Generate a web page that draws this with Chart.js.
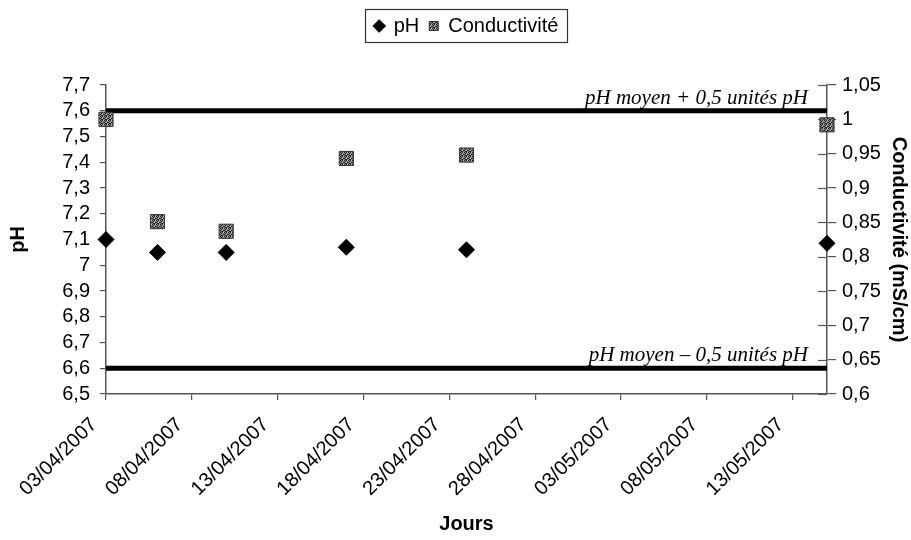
<!DOCTYPE html>
<html>
<head>
<meta charset="utf-8">
<script src="https://cdn.jsdelivr.net/npm/chart.js@4/dist/chart.umd.min.js"></script>
<style>
  html, body { margin: 0; padding: 0; background: #fff; }
  #wrap { width: 911px; height: 540px; }
</style>
</head>
<body>
<div id="wrap"><canvas id="c" width="911" height="540"></canvas></div>
<script>
// ---- data ----
const axisStart = '03/04/2007';
const axisEnd = '15/05/2007';
const dates = ['03/04/2007', '06/04/2007', '10/04/2007', '17/04/2007', '24/04/2007', '15/05/2007'];
const phValues = [7.10, 7.05, 7.05, 7.07, 7.06, 7.085];
const conductivity = [1.000, 0.851, 0.837, 0.943, 0.948, 0.992];
const xTickDates = ['03/04/2007', '08/04/2007', '13/04/2007', '18/04/2007', '23/04/2007',
                    '28/04/2007', '03/05/2007', '08/05/2007', '13/05/2007'];
const phLimits = [7.6, 6.6];
const limitLabels = ['pH moyen + 0,5 unités pH', 'pH moyen \u2013 0,5 unités pH'];
const seriesNames = ['pH', 'Conductivité'];
const axisTitles = { x: 'Jours', y: 'pH', y1: 'Conductivité (mS/cm)' };

// ---- helpers ----
const DAY = 86400000;
function toUTC(s) { const [d, m, y] = s.split('/').map(Number); return Date.UTC(y, m - 1, d); }
const t0 = toUTC(axisStart);
function dayIndex(s) { return Math.round((toUTC(s) - t0) / DAY); }
function labelFor(i) {
  const dt = new Date(t0 + i * DAY);
  const dd = String(dt.getUTCDate()).padStart(2, '0');
  const mm = String(dt.getUTCMonth() + 1).padStart(2, '0');
  return dd + '/' + mm + '/' + dt.getUTCFullYear();
}
function fr(v, dec) { return String(Number(v.toFixed(dec))).replace('.', ','); }

const xMax = dayIndex(axisEnd);

// dithered grey pattern for conductivity squares
const pc = document.createElement('canvas');
pc.width = 4; pc.height = 4;
const pg = pc.getContext('2d');
pg.fillStyle = '#8c8c8c'; pg.fillRect(0, 0, 4, 4);
pg.fillStyle = '#1e1e1e';
[[0,0],[2,0],[1,1],[3,2],[0,2],[1,3],[2,3]].forEach(([a,b]) => pg.fillRect(a, b, 1, 1));
pg.fillStyle = '#c4c4c4';
[[3,0],[2,2]].forEach(([a,b]) => pg.fillRect(a, b, 1, 1));
const ctx = document.getElementById('c').getContext('2d');
const greyPattern = ctx.createPattern(pc, 'repeat');

const FAMILY = '"Liberation Sans", Arial, sans-serif';

// extra space below the legend box (keeps plot top where the reference has it)
const legendGap = {
  id: 'legendGap',
  beforeLayout(chart) {
    const lg = chart.legend;
    if (lg && !lg._gapWrapped) {
      const of = lg.fit.bind(lg);
      lg.fit = function () { of(); this.height += 39; };
      lg._gapWrapped = true;
    }
  }
};

const legendBorder = {
  id: 'legendBorder',
  afterDraw(chart) {
    const lg = chart.legend;
    if (!lg || !lg.legendHitBoxes || !lg.legendHitBoxes.length) return;
    const hb = lg.legendHitBoxes;
    let l = Infinity, r = -Infinity, t = Infinity, b = -Infinity;
    hb.forEach(h => { l = Math.min(l, h.left); r = Math.max(r, h.left + h.width); t = Math.min(t, h.top); b = Math.max(b, h.top + h.height); });
    const c = chart.ctx;
    c.save();
    c.strokeStyle = '#333';
    c.lineWidth = 1.2;
    c.strokeRect(Math.round(l - 10) + 0.5, Math.round(t - 7) + 0.5, Math.round(r - l + 18), Math.round(b - t + 13));
    c.restore();
  }
};

const extras = {
  id: 'extras',
  afterDatasetsDraw(chart) {
    const c = chart.ctx;
    const area = chart.chartArea;
    const y = chart.scales.y;
    c.save();
    c.fillStyle = '#000';
    c.font = 'italic 21px "Liberation Serif", "Times New Roman", serif';
    c.textAlign = 'right';
    c.textBaseline = 'alphabetic';
    phLimits.forEach((v, i) => {
      c.fillText(limitLabels[i], area.right - 19, y.getPixelForValue(v) - 7);
    });
    // inner half of the crossing ticks on the right axis
    const y1 = chart.scales.y1;
    c.strokeStyle = '#555';
    c.lineWidth = 1.2;
    y1.ticks.forEach(t => {
      const py = Math.round(y1.getPixelForValue(t.value)) + 0.5;
      c.beginPath(); c.moveTo(area.right - 9, py); c.lineTo(area.right, py); c.stroke();
    });
    c.restore();
  }
};

new Chart(ctx, {
  type: 'scatter',
  data: {
    datasets: [
      {
        label: seriesNames[0],
        data: dates.map((d, i) => ({ x: dayIndex(d), y: phValues[i] })),
        yAxisID: 'y',
        pointStyle: 'rectRot',
        pointRadius: 8,
        backgroundColor: '#000',
        borderColor: '#000',
        borderWidth: 1,
        clip: false,
        order: 0
      },
      {
        label: seriesNames[1],
        data: dates.map((d, i) => ({ x: dayIndex(d), y: conductivity[i] })),
        yAxisID: 'y1',
        pointStyle: 'rect',
        pointRadius: 10,
        backgroundColor: greyPattern,
        borderColor: '#333',
        borderWidth: 1,
        clip: false,
        order: 1
      },
      ...phLimits.map(v => ({
        label: 'limit',
        data: [{ x: 0, y: v }, { x: xMax, y: v }],
        yAxisID: 'y',
        showLine: true,
        borderColor: '#000',
        borderWidth: 5,
        pointRadius: 0,
        order: 2
      }))
    ]
  },
  options: {
    responsive: false,
    animation: false,
    events: [],
    layout: { padding: { top: 6, left: 0, right: 0, bottom: 0 } },
    plugins: {
      tooltip: { enabled: false },
      legend: {
        position: 'top',
        fullSize: false,
        labels: {
          usePointStyle: true,
          boxWidth: 9,
          boxHeight: 9,
          padding: 10,
          color: '#000',
          font: { family: FAMILY, size: 20 },
          filter: item => item.datasetIndex < 2
        }
      }
    },
    scales: {
      x: {
        type: 'linear',
        min: 0,
        max: xMax,
        afterBuildTicks: s => { s.ticks = xTickDates.map(d => ({ value: dayIndex(d) })); },
        afterFit: s => { s.height = 146; },
        ticks: {
          autoSkip: false,
          minRotation: 45,
          maxRotation: 45,
          padding: 13,
          labelOffset: -12,
          color: '#000',
          font: { family: FAMILY, size: 20 },
          callback: v => labelFor(v)
        },
        grid: { drawOnChartArea: false, tickLength: 6, color: '#555', lineWidth: 1.2 },
        border: { display: true, color: '#555', width: 1.5 },
        title: { display: true, text: axisTitles.x, color: '#000', font: { family: FAMILY, size: 20, weight: 'bold' }, padding: { top: 4, bottom: 4 } }
      },
      y: {
        position: 'left',
        min: 6.5,
        max: 7.7,
        afterFit: s => { s.width = 106; },
        ticks: {
          stepSize: 0.1,
          autoSkip: false,
          padding: 10,
          color: '#000',
          font: { family: FAMILY, size: 20 },
          callback: v => fr(v, 1)
        },
        grid: { drawOnChartArea: false, tickLength: 6, color: '#555', lineWidth: 1.2 },
        border: { display: true, color: '#555', width: 1.5 },
        title: { display: true, text: axisTitles.y, color: '#000', font: { family: FAMILY, size: 20, weight: 'bold' }, padding: { top: 6, bottom: 0 } }
      },
      y1: {
        position: 'right',
        min: 0.6,
        max: 1.05,
        afterFit: s => { s.width = 84; },
        ticks: {
          stepSize: 0.05,
          autoSkip: false,
          padding: 6,
          color: '#000',
          font: { family: FAMILY, size: 20 },
          callback: v => fr(v, 2)
        },
        grid: { drawOnChartArea: false, tickLength: 9, color: '#555', lineWidth: 1.2 },
        border: { display: true, color: '#555', width: 1.5 },
        title: { display: true, text: axisTitles.y1, color: '#000', font: { family: FAMILY, size: 20, weight: 'bold' }, padding: { top: 0, bottom: 0 } }
      }
    }
  },
  plugins: [legendGap, legendBorder, extras]
});
</script>
</body>
</html>
